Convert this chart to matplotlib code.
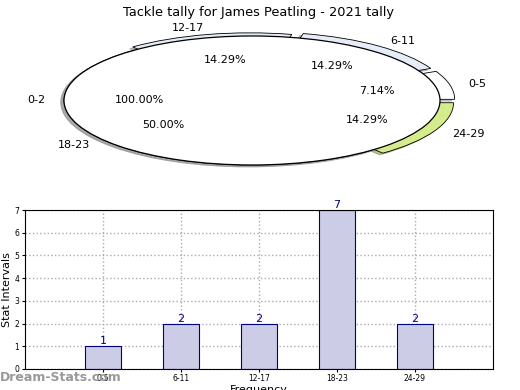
import numpy as np
import matplotlib
matplotlib.use("Agg")
import matplotlib.pyplot as plt

# tally data
intervals = ['0-5', '6-11', '12-17', '18-23', '24-29']
counts = [1, 2, 2, 7, 2]
pie_colors = ['#ffffff', '#e6ecf8', '#e4eaf6', '#ffffff', '#d4ec8c']
explode = [0.08, 0.08, 0.05, 0.0, 0.08]
# the odd full-circle slice drawn on top of the real pie
cover_labels = ['0-2']
cover_values = [1]

title = 'Tackle tally for James Peatling - 2021 tally'

fig = plt.figure(figsize=(5.2, 3.9), dpi=100)

shadow = {'ox': -0.012, 'oy': -0.02, 'shade': 0.4, 'alpha': 0.6}

# pie on top
ax1 = fig.add_axes([17 / 520, 0.5356, 470 / 520, 0.4135])
ax1.pie(counts, labels=intervals, colors=pie_colors, explode=explode,
        autopct='%1.2f%%', shadow=shadow, startangle=0,
        wedgeprops={'edgecolor': 'black', 'linewidth': 0.6},
        textprops={'fontsize': 8})
ax1.pie(cover_values, labels=cover_labels, colors=['white'],
        autopct='%1.2f%%', shadow=shadow, startangle=0,
        wedgeprops={'edgecolor': 'black', 'linewidth': 0.9},
        textprops={'fontsize': 8})
ax1.set_aspect('auto')
ax1.set_xlim(-1.25, 1.25)
ax1.set_ylim(-1.25, 1.25)
ax1.set_axis_off()
fig.text(0.498, 0.985, title, ha='center', va='top', fontsize=9.3)

# bar chart below
ax2 = fig.add_axes([25 / 520, 0.054, 468 / 520, 0.4075])
x = np.arange(len(intervals))
bars = ax2.bar(x, counts, width=0.46, color='#ccccE6', edgecolor='#000080',
               linewidth=0.8, zorder=2)
for xi, c in zip(x, counts):
    ax2.text(xi, c, str(c), ha='center', va='bottom', color='#000080',
             fontsize=8, zorder=3)
ax2.set_xlim(-1, 5)
ax2.set_ylim(0, 7)
ax2.set_xticks(x)
ax2.set_xticklabels(intervals, fontsize=5.5)
ax2.set_yticks(range(8))
ax2.tick_params(axis='y', labelsize=5.5, length=2, pad=2)
ax2.tick_params(axis='x', length=2, pad=2)
ax2.grid(True, linestyle=':', color='#aaaaaa', linewidth=1.0, zorder=0)
ax2.set_axisbelow(True)
ax2.set_ylabel('Stat Intervals', fontsize=8, labelpad=2)
ax2.set_xlabel('Frequency', fontsize=8, labelpad=1)

fig.text(0.0, 0.015, 'Dream-Stats.com', fontsize=9, color='#999999',
         fontweight='bold', ha='left', va='bottom')

fig.savefig('out.png', dpi=100)
